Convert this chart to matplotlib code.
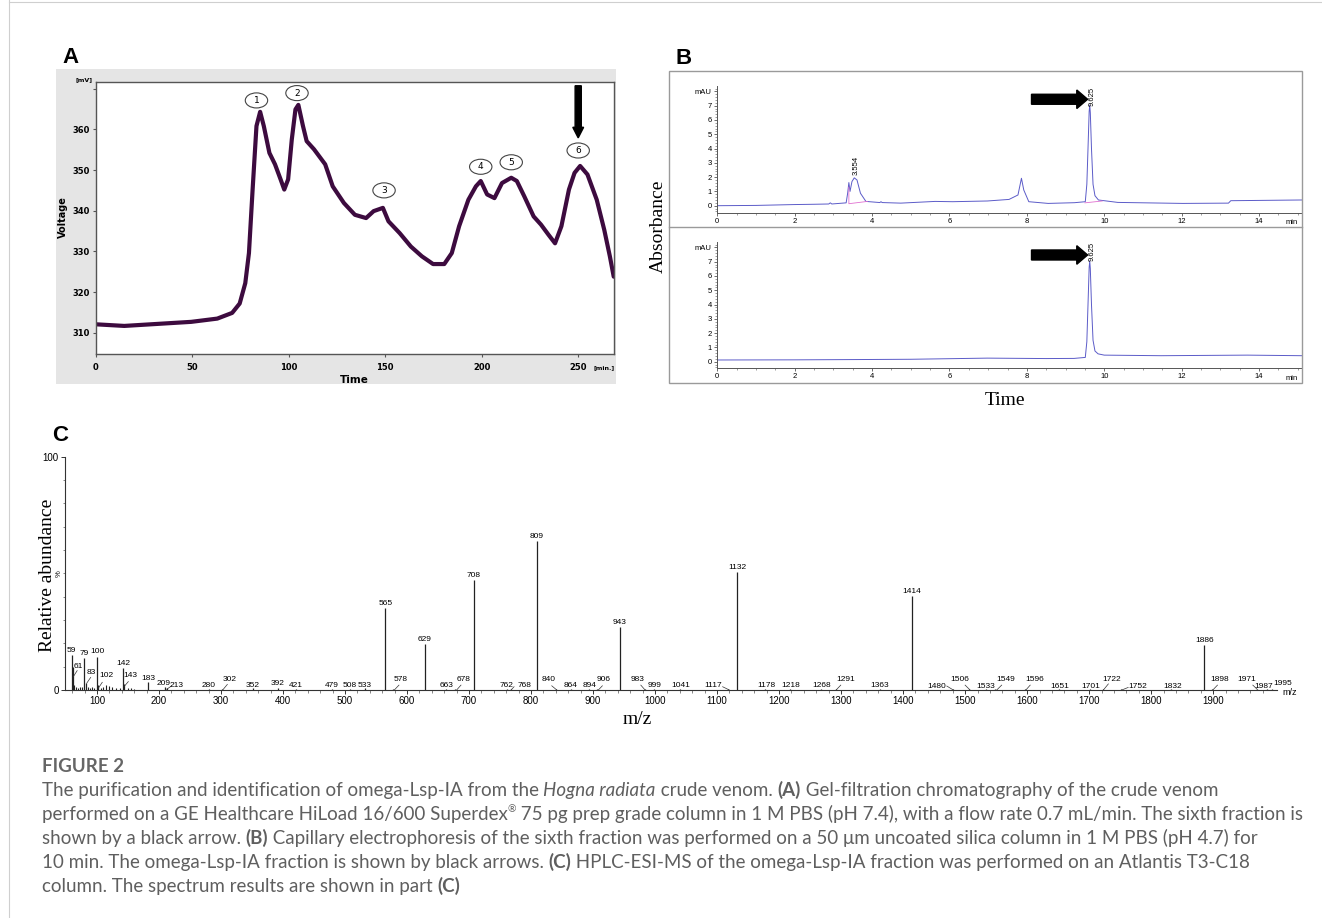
import matplotlib
matplotlib.use('Agg')
import matplotlib.pyplot as plt
from matplotlib.patches import Rectangle, Ellipse, FancyArrow
from matplotlib.lines import Line2D
from matplotlib.ticker import MultipleLocator, FixedLocator

W, H = 1322, 918

# ---------------- Panel A data (gel filtration) ----------------
a_time = [0, 14.8, 49.5, 63, 70.7, 74.6, 77.5, 79.4, 81.3, 83.3, 85.2, 87.1, 90, 92.9, 95.8,
          97.7, 99.7, 101.6, 103.5, 105, 107.4, 109.3, 113.1, 118.9, 122.8, 128.6, 134.3, 140.1,
          144, 148.8, 151.7, 157.5, 163.3, 169, 174.8, 180.6, 184.5, 188.3, 193.1, 197, 199.5,
          202.8, 206.6, 210.5, 215.3, 218.2, 222, 226.9, 230.7, 234.6, 238, 241.3, 245.2, 248.1,
          251, 254.8, 259.6, 263.5, 266.4, 268.4]
a_volt = [312.1, 311.7, 312.7, 313.5, 314.9, 317.2, 322.2, 329.6, 345.2, 360.8, 364.3, 360.8,
          354.2, 351.4, 347.7, 345.2, 347.7, 357.5, 364.9, 366.0, 360.8, 357.1, 355.1, 351.4, 346,
          341.9, 339, 338.2, 339.9, 340.7, 337.4, 334.5, 331.2, 328.8, 326.9, 326.9, 329.6, 336.2,
          342.7, 346, 347.3, 344, 343.1, 346.8, 348.1, 347.3, 343.6, 338.6, 336.6, 334.1, 332,
          336.2, 345.2, 349.3, 351, 348.9, 342.7, 335.3, 328.8, 323.8]
a_xticks = [0, 50, 100, 150, 200, 250]
a_yticks = [310, 320, 330, 340, 350, 360, 370]
frac_ids = ['1', '2', '3', '4', '5', '6']
frac_t = [83.3, 104.3, 149.4, 199.5, 215.3, 250]
frac_v = [367.1, 368.9, 345.0, 350.8, 351.9, 354.8]

# ---------------- Panel B data (capillary electrophoresis) ----------------
b1_t = [0, 1.0, 2.0, 2.5, 2.88, 2.92, 2.96, 3.33, 3.37, 3.40, 3.43, 3.48, 3.54, 3.61, 3.70, 3.84,
        4.2, 4.23, 4.26, 4.74, 5.63, 6.08, 6.98, 7.54, 7.77, 7.86, 7.92, 8.05, 8.55, 9.23, 9.51,
        9.55, 9.58, 9.61, 9.625, 9.64, 9.67, 9.71, 9.76, 9.85, 10.35, 12.03, 13.21, 13.27, 15.1]
b1_a = [0.0, 0.02, 0.08, 0.1, 0.12, 0.2, 0.12, 0.2, 0.9, 1.62, 1.0, 1.69, 1.95, 1.8, 0.87, 0.3,
        0.22, 0.28, 0.22, 0.18, 0.3, 0.28, 0.33, 0.44, 0.75, 1.92, 1.1, 0.28, 0.16, 0.21, 0.28,
        1.5, 4.0, 6.6, 7.05, 6.5, 4.0, 1.5, 0.7, 0.4, 0.23, 0.16, 0.18, 0.35, 0.4]
b1_base_t = [3.40, 3.40, 3.88]
b1_base_a = [1.3, 0.14, 0.3]
b1_base2_t = [9.50, 9.95]
b1_base2_a = [0.2, 0.33]
b2_t = [0, 2.0, 3.6, 5.0, 6.98, 8.5, 9.22, 9.51, 9.55, 9.58, 9.61, 9.625, 9.64, 9.67, 9.71,
        9.76, 9.84, 10.0, 11.47, 13.7, 15.1]
b2_a = [0.12, 0.13, 0.15, 0.17, 0.25, 0.22, 0.23, 0.3, 1.4, 4.0, 6.6, 7.05, 6.5, 4.0, 1.5,
        0.75, 0.55, 0.46, 0.42, 0.46, 0.42]
b_xticks = [0, 2, 4, 6, 8, 10, 12, 14]
b_yticks = [0, 1, 2, 3, 4, 5, 6, 7, 8]
b_yticklabels = ['0', '1', '2', '3', '4', '5', '6', '7', 'mAU']

# ---------------- Panel C data (ESI-MS spectrum) ----------------
c_mz = [59, 61, 79, 83, 100, 102, 142, 143, 183, 209, 213, 280, 302, 352, 392, 421, 479, 508,
        533, 565, 578, 629, 663, 678, 708, 762, 768, 809, 840, 864, 894, 906, 943, 983, 999,
        1041, 1117, 1132, 1178, 1218, 1268, 1291, 1363, 1414, 1480, 1506, 1533, 1549, 1596,
        1651, 1701, 1722, 1752, 1832, 1886, 1898, 1971, 1987, 1995]
c_int = [15.0, 10.0, 13.7, 3.0, 14.3, 2.0, 9.4, 2.5, 3.3, 1.2, 0.8, 0.6, 0.6, 0.7, 1.0, 0.6,
         0.6, 0.6, 0.8, 35.1, 0.6, 19.7, 0.6, 0.6, 47.1, 0.5, 0.5, 63.7, 0.6, 0.5, 0.5, 0.6,
         27.1, 0.5, 0.5, 0.5, 0.5, 50.6, 0.5, 0.5, 0.5, 0.5, 0.5, 40.3, 0.4, 0.4, 0.4, 0.4, 0.4,
         0.4, 0.4, 0.4, 0.4, 0.4, 19.3, 0.4, 0.4, 0.4, 0.4]
c_minor_mz = [63, 66, 70, 73, 76, 86, 89, 92, 95, 106, 110, 115, 120, 125, 130, 137, 150, 155, 160]
c_minor_int = [2.0, 1.2, 1.0, 1.5, 1.2, 1.5, 1.0, 1.2, 0.8, 1.0, 1.5, 2.0, 1.8, 1.2, 1.0, 0.8,
               1.0, 0.8, 0.6]
c_xticks = list(range(100, 2000, 100))

# label layout (text centre, in m/z and %) for labels that are not simply above their bar
c_label_pos = {61: (70, 10), 83: (91.4, 7.6), 102: (114.5, 6.1), 143: (154, 6.1),
               183: (182.8, 5.0), 209: (208, 2.9), 213: (228.5, 1.9), 280: (279.6, 1.9),
               302: (313.4, 4.6), 352: (351, 1.9), 392: (392, 2.6), 421: (421, 1.9),
               479: (478.5, 1.9), 508: (508, 1.9), 533: (532, 2.1), 578: (590, 4.3),
               663: (664, 1.9), 678: (691, 4.6), 762: (760.8, 1.9), 768: (790, 1.9),
               840: (829, 4.3), 864: (863, 1.9), 894: (894, 1.9), 906: (917, 4.3),
               983: (972, 4.3), 999: (999.8, 1.9), 1041: (1041, 1.9), 1117: (1094, 1.9),
               1178: (1180, 1.9), 1218: (1219, 1.9), 1268: (1268.9, 1.9), 1291: (1308, 4.3),
               1363: (1363, 1.9), 1480: (1455, 1.7), 1506: (1492, 4.6), 1533: (1534, 1.7),
               1549: (1566, 4.6), 1596: (1613, 4.6), 1651: (1652, 1.7), 1701: (1702, 1.7),
               1722: (1737, 4.6), 1752: (1778, 1.7), 1832: (1834, 1.7), 1898: (1911, 4.6),
               1971: (1954, 4.6), 1987: (1982, 1.7), 1995: (2012, 3.0)}
c_leaders = [(61.8, 5.7, 68, 8.3), (83.4, 2.9, 89.8, 5.4), (102, 0.7, 108.5, 3.3),
             (143.5, 1.4, 150.5, 3.6), (212.4, 0.3, 220.5, 1.8), (302.7, 0, 310.2, 2.4),
             (579.5, 0, 587, 2.1), (680, 0, 687, 2.1), (767.7, 0, 772.6, 1.4),
             (841.5, 0, 833.4, 1.8), (908.5, 0, 915, 1.8), (983.9, 0, 977, 2.1),
             (1109, 1.4, 1119.8, 0), (1292, 0, 1299.5, 2.1), (1470.5, 1.7, 1481, 0),
             (1500, 2.1, 1508, 0), (1559, 2.1, 1551, 0), (1605, 2.1, 1598, 0),
             (1731, 2.6, 1723, 0), (1763, 1.1, 1752.7, 0), (1907, 2.1, 1899.5, 0),
             (1964, 2.1, 1971, 0.3)]

# ---------------- Caption ----------------
caption_title = 'FIGURE 2'
caption_lines = [
    [("The purification and identification of omega-Lsp-IA from the ", 'r'), ("Hogna radiata", 'i'),
     (" crude venom. ", 'r'), ("(A)", 'b'), (" Gel-filtration chromatography of the crude venom", 'r')],
    [("performed on a GE Healthcare HiLoad 16/600 Superdex", 'r'), ("\u00ae", 'sup'),
     (" 75 pg prep grade column in 1 M PBS (pH 7.4), with a flow rate 0.7 mL/min. The sixth fraction is", 'r')],
    [("shown by a black arrow. ", 'r'), ("(B)", 'b'),
     (" Capillary electrophoresis of the sixth fraction was performed on a 50 \u03bcm uncoated silica column in 1 M PBS (pH 4.7) for", 'r')],
    [("10 min. The omega-Lsp-IA fraction is shown by black arrows. ", 'r'), ("(C)", 'b'),
     (" HPLC-ESI-MS of the omega-Lsp-IA fraction was performed on an Atlantis T3-C18", 'r')],
    [("column. The spectrum results are shown in part ", 'r'), ("(C)", 'b')],
]

SANS = 'Liberation Sans'
SERIF = 'Liberation Serif'

fig = plt.figure(figsize=(W / 100, H / 100), dpi=100)
fig.patch.set_facecolor('white')


def fx(x):
    return x / W


def fy(y):
    return 1 - y / H


def px_axes(x0, y0, x1, y1):
    return fig.add_axes([x0 / W, 1 - y1 / H, (x1 - x0) / W, (y1 - y0) / H])


# page frame lines
fig.add_artist(Line2D([fx(9), fx(9)], [0, 1], color='#cfcfcf', lw=0.8))
fig.add_artist(Line2D([fx(9), 1], [fy(2), fy(2)], color='#cfcfcf', lw=0.8))

# ================= Panel A =================
fig.add_artist(Rectangle((fx(56), fy(384)), (616 - 56) / W, (384 - 69.3) / H,
                         transform=fig.transFigure, facecolor='#e5e5e5', edgecolor='none', zorder=-1))
axA = px_axes(95.7, 81.7, 614.3, 353.6)
axA.plot(a_time, a_volt, color='#3d0b3f', lw=3.0, solid_joinstyle='round', solid_capstyle='round')
axA.set_xlim(0, 268.7)
axA.set_ylim(304.9, 371.7)
for s in axA.spines.values():
    s.set_color('#555555')
    s.set_linewidth(1.0)
axA.set_xticks(a_xticks)
axA.set_yticks(a_yticks)
axA.set_yticklabels([str(v) if v < 370 else '' for v in a_yticks])
axA.tick_params(labelsize=6, length=2, width=0.8, color='#555555')
axA.tick_params(axis='y', pad=2)
axA.tick_params(axis='x', pad=5)
for lab in axA.get_xticklabels() + axA.get_yticklabels():
    lab.set_fontweight('bold')
    lab.set_family('DejaVu Sans')
for lab, t, v in zip(frac_ids, frac_t, frac_v):
    axA.add_patch(Ellipse((t, v), 11.6, 3.7, facecolor='white', edgecolor='#444444', lw=0.8, zorder=4))
    axA.text(t, v, lab, ha='center', va='center', fontsize=6.5, zorder=5, family='DejaVu Sans')
axA.add_patch(FancyArrow(250, 370.7, 0, -12.8, width=3.2, head_width=5.6, head_length=2.6,
                         length_includes_head=True, color='black', zorder=5))
fig.text(fx(84.3), fy(79.3), '[mV]', fontsize=4.5, weight='bold', ha='center', va='center')
fig.text(fx(604), fy(368), '[min.]', fontsize=4.5, weight='bold', ha='center', va='center')
fig.text(fx(63.3), fy(216.7), 'Voltage', rotation=90, fontsize=7, weight='bold', ha='center', va='center')
fig.text(fx(354), fy(380), 'Time', fontsize=7.5, weight='bold', ha='center', va='center')

# ================= Panel B =================
fig.add_artist(Rectangle((fx(669.3), fy(383.3)), (1301.6 - 669.3) / W, (383.3 - 70.7) / H,
                         transform=fig.transFigure, fill=False, edgecolor='#9a9a9a', lw=1.0, zorder=3))
fig.add_artist(Line2D([fx(669.3), fx(1301.6)], [fy(226.9), fy(226.9)], color='#9a9a9a', lw=1.0))
axB1 = px_axes(717.3, 70.7, 1301.6, 212.7)
axB2 = px_axes(717.3, 226.7, 1301.6, 367.7)
b_minor_y = [i * 0.2 for i in range(-2, 42) if i % 5]
for ax, yl, off in [(axB1, (-0.49, 9.45), -0.066), (axB2, (-0.42, 9.45), -0.076)]:
    ax.set_xlim(0, 15.1)
    ax.set_ylim(*yl)
    ax.patch.set_alpha(0)
    ax.spines['top'].set_visible(False)
    ax.spines['right'].set_visible(False)
    ax.spines['left'].set_bounds(yl[0], 8.35)
    for k in ('left', 'bottom'):
        ax.spines[k].set_color('#555555')
        ax.spines[k].set_linewidth(0.7)
    ax.set_xticks(b_xticks)
    ax.xaxis.set_minor_locator(MultipleLocator(0.5))
    ax.set_yticks(b_yticks)
    ax.set_yticklabels(b_yticklabels)
    ax.yaxis.set_minor_locator(FixedLocator([v for v in b_minor_y if yl[0] < v < 8.3]))
    ax.tick_params(which='major', labelsize=5.5, length=2.5, width=0.6, pad=1.5, color='#555555')
    ax.tick_params(which='minor', length=1.5, width=0.5, color='#777777')
    for lab in ax.get_xticklabels() + ax.get_yticklabels():
        lab.set_family(SANS)
    ax.text(14.84, off, 'min', transform=ax.get_xaxis_transform(), fontsize=5.5, family=SANS,
            ha='center', va='center')
axB1.plot(b1_t, b1_a, color='#5b5bc8', lw=0.7)
axB1.plot(b1_base_t, b1_base_a, color='#e070d0', lw=0.6)
axB1.plot(b1_base2_t, b1_base2_a, color='#e070d0', lw=0.6)
axB2.plot(b2_t, b2_a, color='#5b5bc8', lw=0.7)
axB1.text(3.58, 2.85, '3.554', rotation=90, fontsize=5.5, family=SANS, ha='center', va='center')
axB1.text(9.69, 7.63, '9.625', rotation=90, fontsize=5.5, family=SANS, ha='center', va='center')
axB2.text(9.69, 7.7, '9.625', rotation=90, fontsize=5.5, family=SANS, ha='center', va='center')
for ax, yc in [(axB1, 7.45), (axB2, 7.47)]:
    ax.add_patch(FancyArrow(8.12, yc, 1.45, 0, width=0.7, head_width=1.3, head_length=0.28,
                            length_includes_head=True, color='black', zorder=5))
fig.text(fx(658.3), fy(226.7), 'Absorbance', rotation=90, family=SERIF, fontsize=14,
         ha='center', va='center')
fig.text(fx(1005), fy(400), 'Time', family=SERIF, fontsize=14, ha='center', va='center')

# ================= Panel C =================
axC = px_axes(65, 456.7, 1277, 690)
axC.set_xlim(48.4, 2003)
axC.set_ylim(0, 100)
axC.vlines(c_minor_mz, 0, c_minor_int, color='#222222', lw=0.8)
axC.vlines(c_mz, 0, c_int, color='#222222', lw=0.9)
axC.spines['top'].set_visible(False)
axC.spines['right'].set_visible(False)
for k in ('left', 'bottom'):
    axC.spines[k].set_color('#333333')
    axC.spines[k].set_linewidth(0.8)
axC.set_yticks([0, 100])
axC.yaxis.set_minor_locator(FixedLocator(list(range(10, 100, 10))))
axC.set_xticks(c_xticks)
axC.xaxis.set_minor_locator(FixedLocator([v for v in range(60, 2000, 20) if v % 100]))
axC.tick_params(which='major', labelsize=7, length=3, width=0.7, pad=1.5, color='#333333')
axC.tick_params(which='minor', length=1.8, width=0.5, color='#555555')
for lab in axC.get_xticklabels() + axC.get_yticklabels():
    lab.set_family(SANS)
for m, v in zip(c_mz, c_int):
    if m in c_label_pos:
        tx, ty = c_label_pos[m]
        axC.text(tx, ty, str(m), fontsize=6, family=SANS, ha='center', va='center', clip_on=False)
    else:
        axC.text(m, v + 0.5, str(m), fontsize=6, family=SANS, ha='center', va='bottom', clip_on=False)
for x0, y0, x1, y1 in c_leaders:
    axC.plot([x0, x1], [y0, y1], color='#333333', lw=0.5, clip_on=False)
axC.text(2024, -1.2, 'm/z', fontsize=6.5, family=SANS, ha='center', va='center', clip_on=False)
fig.text(fx(59.3), fy(573.3), '%', rotation=90, fontsize=5.5, family=SANS, ha='center', va='center')
fig.text(fx(47.5), fy(575), 'Relative abundance', rotation=90, family=SERIF, fontsize=14,
         ha='center', va='center')
fig.text(fx(637), fy(720), 'm/z', family=SERIF, fontsize=14, ha='center', va='center')

# panel letters
fig.text(fx(70.5), fy(62.7), 'A', fontsize=16, weight='bold', family=SANS, ha='center', va='baseline')
fig.text(fx(683.3), fy(64.0), 'B', fontsize=16, weight='bold', family=SANS, ha='center', va='baseline')
fig.text(fx(60.0), fy(440.7), 'C', fontsize=16, weight='bold', family=SANS, ha='center', va='baseline')

# ================= Caption =================
renderer = fig.canvas.get_renderer()
CAP_FAM = ['Lato', 'DejaVu Sans']
CAP_COL = '#5f5f5f'


def style_kw(style, size):
    kw = dict(family=CAP_FAM, fontsize=size, color=CAP_COL, weight='normal')
    if style == 'i':
        kw['style'] = 'italic'
    elif style == 'b':
        kw['weight'] = 'bold'
    elif style == 'sup':
        kw['fontsize'] = size * 0.55
    return kw


def width_of(s, kw):
    t1 = fig.text(0, 0, '|' + s + '|', **kw)
    t2 = fig.text(0, 0, '||', **kw)
    w = t1.get_window_extent(renderer).width - t2.get_window_extent(renderer).width
    t1.remove()
    t2.remove()
    return w


ref = 10.0
w_line2 = sum(width_of(s, style_kw(st, ref)) for s, st in caption_lines[1])
cap_size = ref * (1300 - 41.7) / w_line2

fig.text(fx(41.7), fy(771.7), caption_title, family=CAP_FAM, fontsize=cap_size * 1.0,
         weight='bold', color='#666666', va='baseline', ha='left')
baselines = [796, 820, 844, 868, 892]
for runs, yb in zip(caption_lines, baselines):
    x = 41.7
    for s, st in runs:
        kw = style_kw(st, cap_size)
        y = yb - (cap_size * 0.6 if st == 'sup' else 0)
        fig.text(fx(x), fy(y), s, ha='left', va='baseline', **kw)
        x += width_of(s, kw)

fig.savefig('out.png', dpi=100, facecolor='white')
